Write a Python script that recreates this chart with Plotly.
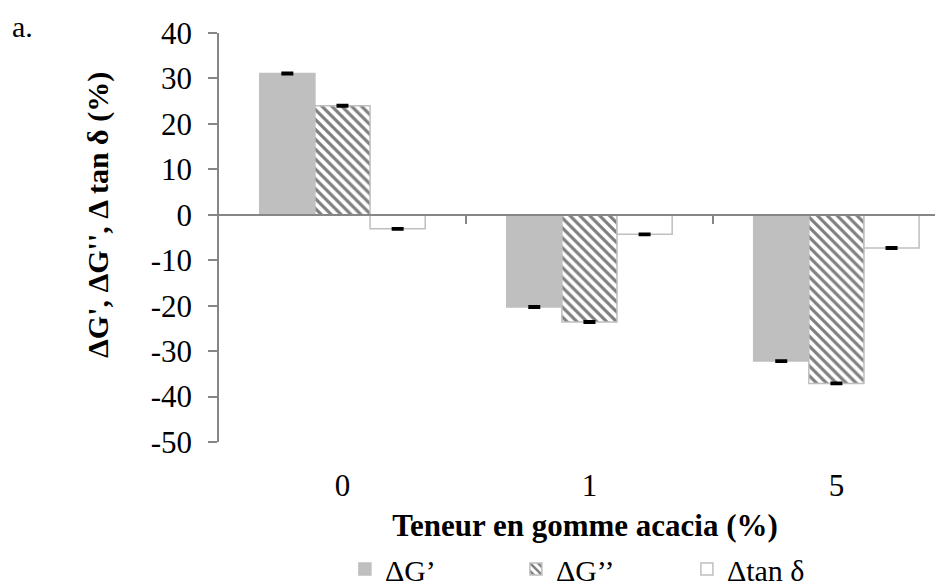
import plotly.graph_objects as go

categories = ["0", "1", "5"]
dg_prime = [31.1, -20.3, -32.2]
dg_second = [24.0, -23.6, -37.1]
dtan_delta = [-3.1, -4.3, -7.3]
err = [0.15, 0.15, 0.15]

series_names = ["ΔG’", "ΔG’’", "Δtan δ"]
y_ticks = [-50, -40, -30, -20, -10, 0, 10, 20, 30, 40]

FONT = "Liberation Serif"
GRAY = "#BFBFBF"
AXIS = "#868686"

errbar = dict(type="data", array=err, visible=True, color="black", thickness=2.5, width=6)

fig = go.Figure()

fig.add_trace(go.Bar(
    x=categories, y=dg_prime, name=series_names[0],
    marker=dict(color=GRAY, line=dict(color=GRAY, width=1.5)),
    error_y=errbar,
))
fig.add_trace(go.Bar(
    x=categories, y=dg_second, name=series_names[1],
    marker=dict(
        color="white",
        line=dict(color=GRAY, width=1.5),
        pattern=dict(shape="\\", fgcolor="black", bgcolor="white", size=7, solidity=0.45),
    ),
    error_y=errbar,
))
fig.add_trace(go.Bar(
    x=categories, y=dtan_delta, name=series_names[2],
    marker=dict(color="white", line=dict(color=GRAY, width=1.5)),
    error_y=errbar,
))

# empty trace so the zero-line axis with the group separators gets drawn
fig.add_trace(go.Scatter(x=[], y=[], xaxis="x2", showlegend=False, hoverinfo="skip"))

zero_pos = (0 - (-50)) / 90

fig.update_layout(
    width=943, height=587,
    margin=dict(l=211, r=0, t=25, b=144),
    paper_bgcolor="white", plot_bgcolor="white",
    font=dict(family=FONT, size=31, color="black"),
    barmode="group", bargap=0.33, bargroupgap=0,
    showlegend=True,
    legend=dict(
        orientation="h", x=0.172, xanchor="left", y=-0.311, yanchor="middle",
        font=dict(family=FONT, size=30), entrywidth=126, itemwidth=30,
        traceorder="normal",
    ),
    xaxis=dict(
        type="category", range=[-0.5, 2.464], automargin=False,
        showline=False, showgrid=False, ticks="", zeroline=False,
        ticklabelstandoff=22,
        title=dict(text="<b>Teneur en gomme acacia (%)</b>", font=dict(family=FONT, size=31), standoff=12),
    ),
    xaxis2=dict(
        overlaying="x", anchor="free", position=zero_pos,
        range=[-0.5, 2.464], showgrid=False, zeroline=False,
        showline=True, linecolor=AXIS, linewidth=1.5,
        ticks="outside", tickvals=[0.5, 1.5], ticklen=8, tickwidth=1.5, tickcolor=AXIS,
        showticklabels=False,
    ),
    yaxis=dict(
        range=[-50, 40], tickvals=y_ticks, ticktext=[str(v) for v in y_ticks],
        automargin=False, showgrid=False, zeroline=False,
        showline=True, linecolor=AXIS, linewidth=1.5,
        ticks="outside", ticklen=9, tickwidth=1.5, tickcolor=AXIS,
        ticklabelstandoff=10,
    ),
    annotations=[
        dict(
            text="a.", xref="paper", yref="paper", x=-0.286, y=1.06,
            xanchor="left", yanchor="top", showarrow=False,
            font=dict(family=FONT, size=30),
        ),
        # y-axis title, centred on the zero line like in the original
        dict(
            text="<b>ΔG', ΔG'', Δ tan δ (%)</b>", xref="paper", yref="paper",
            x=-0.165, y=zero_pos, xanchor="center", yanchor="middle",
            textangle=-90, showarrow=False,
            font=dict(family=FONT, size=30),
        ),
    ],
)

fig.write_html("out.html")
